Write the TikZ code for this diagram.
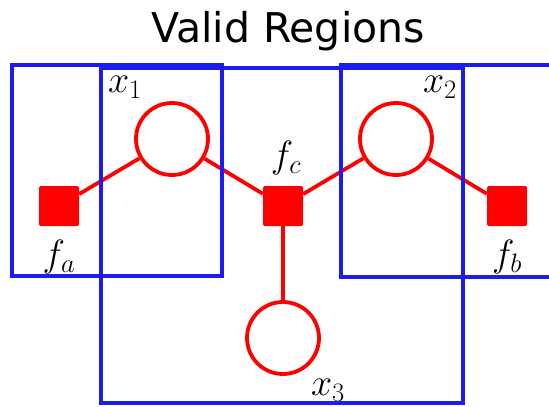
\RequirePackage{fix-cm}
\documentclass[tikz,border=0pt]{standalone}
\usepackage{fontspec}
\newfontfamily\titlefont{DejaVu Sans}
\usetikzlibrary{positioning}
\definecolor{regblue}{RGB}{28,28,240}
\definecolor{facred}{RGB}{255,0,0}
\tikzset{
  varnode/.style={circle, draw=facred, line width=3.8pt, minimum size=72pt, inner sep=0pt},
  facnode/.style={rectangle, fill=facred, rounded corners=1.5pt, minimum size=40pt, inner sep=0pt},
  link/.style={facred, line width=3.8pt},
  region/.style={draw=regblue, line width=4pt, inner sep=0pt},
  lab/.style={font=\fontsize{38}{42}\selectfont, inner sep=0pt}
}
\begin{document}
\begin{tikzpicture}[x=1pt,y=-1pt]
  \useasboundingbox (0,0) rectangle (549,407);
  \clip (0,0) rectangle (549,407);
  \node[font=\titlefont\fontsize{41}{48}\selectfont, anchor=base] (title) at (288,42) {Valid Regions};
  % variables and factors
  \node[varnode] (x1) at (172,139) {};
  \node[varnode] (x2) at (396,139) {};
  \node[varnode] (x3) at (283,338) {};
  \node[facnode] (fa) at (59,206) {};
  \node[facnode] (fc) at (283,206) {};
  \node[facnode] (fb) at (507,206) {};
  \draw[link] (fa) -- (x1);
  \draw[link] (x1) -- (fc);
  \draw[link] (fc) -- (x2);
  \draw[link] (x2) -- (fb);
  \draw[link] (fc) -- (x3);
  % labels
  \node[lab] (lx1) at (125,87) {$x_1$};
  \node[lab] (lx2) at (440,87) {$x_2$};
  \node[lab] (lx3) at (328,390) {$x_3$};
  \node[lab] (lfa) at (59,257) {$f_a$};
  \node[lab] (lfc) at (286,158) {$f_c$};
  \node[lab] (lfb) at (507,257) {$f_b$};
  % regions
  \node[region, minimum width=210pt, minimum height=211pt] (ra) at (117,170.5) {};
  \node[region, minimum width=362pt, minimum height=335pt] (rc) at (282,235.5) {};
  \node[region, minimum width=220pt, minimum height=212pt] (rb) at (451,171) {};
\end{tikzpicture}
\end{document}
